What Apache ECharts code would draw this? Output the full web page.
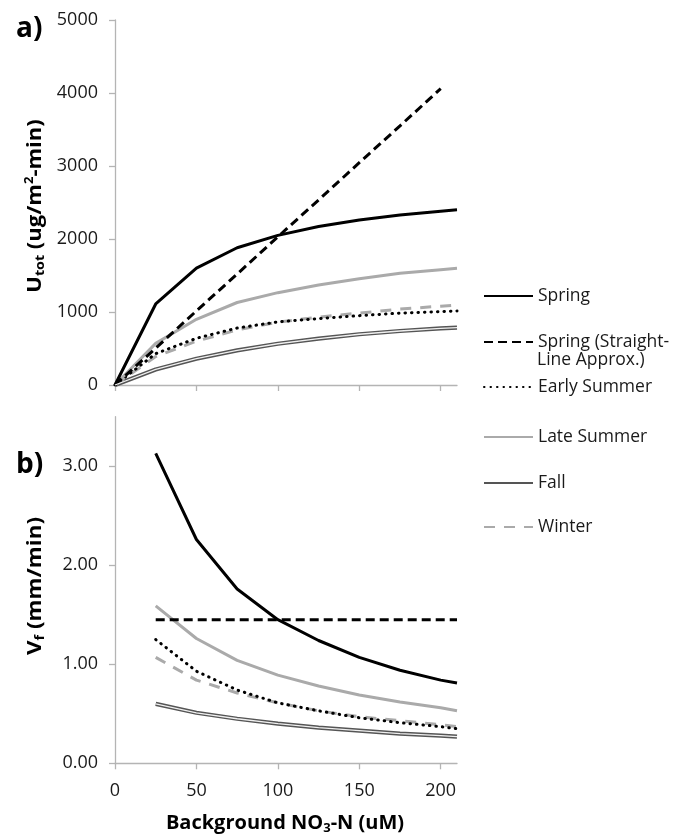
<!DOCTYPE html>
<html>
<head>
<meta charset="utf-8">
<script src="https://cdn.jsdelivr.net/npm/echarts@6/dist/echarts.min.js"></script>
<style>
html,body{margin:0;padding:0;background:#fff;}
#c{width:688px;height:836px;}
</style>
</head>
<body>
<div id="c"></div>
<script>
// ---- data ----
var xTop = [0, 25, 50, 75, 100, 125, 150, 175, 200, 210];
var xStraightTop = [0, 25, 50, 75, 100, 125, 150, 175, 200];
var uSpring = [0, 1110, 1600, 1880, 2050, 2170, 2260, 2330, 2380, 2400];
var uStraight = [0, 505, 1015, 1520, 2030, 2535, 3045, 3550, 4060];
var uEarly = [0, 430, 640, 780, 865, 910, 950, 985, 1005, 1015];
var uLate = [0, 570, 900, 1130, 1265, 1370, 1455, 1530, 1580, 1598];
var uFall = [0, 213, 360, 475, 565, 635, 695, 740, 775, 785];
var uWinter = [0, 390, 600, 755, 860, 930, 985, 1040, 1080, 1096];

var xBot = [25, 50, 75, 100, 125, 150, 175, 200, 210];
var vSpring = [3.13, 2.26, 1.76, 1.45, 1.24, 1.07, 0.94, 0.84, 0.81];
var vStraight = [1.45, 1.45, 1.45, 1.45, 1.45, 1.45, 1.45, 1.45, 1.45];
var vEarly = [1.25, 0.93, 0.74, 0.61, 0.53, 0.46, 0.41, 0.37, 0.35];
var vLate = [1.59, 1.26, 1.04, 0.89, 0.78, 0.69, 0.62, 0.56, 0.53];
var vFall = [0.60, 0.51, 0.45, 0.40, 0.36, 0.33, 0.30, 0.28, 0.27];
var vWinter = [1.07, 0.84, 0.71, 0.61, 0.53, 0.47, 0.43, 0.39, 0.37];

var xTicks = [0, 50, 100, 150, 200];
var yTopTicks = [0, 1000, 2000, 3000, 4000, 5000];
var yBotTicks = [0, 1, 2, 3];

var names = ['Spring', 'Spring (Straight-Line Approx.)', 'Early Summer', 'Late Summer', 'Fall', 'Winter'];

function pairs(xs, ys) { return xs.map(function (x, i) { return [x, ys[i]]; }); }

var FONT = '"Open Sans", "Liberation Sans", sans-serif';
var TXT = '#1a1a1a';
var AX = '#b4b4b4';

var styles = {
  'Spring': { color: '#000', width: 3, type: 'solid' },
  'Spring (Straight-Line Approx.)': { color: '#000', width: 3, type: [9, 5] },
  'Early Summer': { color: '#000', width: 3, type: [0.5, 6], cap: 'round' },
  'Late Summer': { color: '#aaaaaa', width: 3, type: 'solid' },
  'Fall': { color: '#555555', width: 4.2, type: 'solid' },
  'Winter': { color: '#aaaaaa', width: 3, type: [11, 9] }
};

function line(name, data, gi) {
  var s = styles[name];
  return {
    name: name, type: 'line', xAxisIndex: gi, yAxisIndex: gi,
    data: data, symbol: 'none', smooth: false, animation: false,
    lineStyle: { color: s.color, width: s.width, type: s.type, cap: s.cap || 'butt' },
    itemStyle: { color: s.color },
    z: 2
  };
}
function fallInner(data, gi) {
  return { name: 'Fall-inner', type: 'line', xAxisIndex: gi, yAxisIndex: gi, data: data,
    symbol: 'none', animation: false, lineStyle: { color: '#f0f0f0', width: 1.3 }, z: 3, silent: true };
}

var series = [
  line('Fall', pairs(xTop, uFall), 0), fallInner(pairs(xTop, uFall), 0),
  line('Winter', pairs(xTop, uWinter), 0),
  line('Early Summer', pairs(xTop, uEarly), 0),
  line('Late Summer', pairs(xTop, uLate), 0),
  line('Spring (Straight-Line Approx.)', pairs(xStraightTop, uStraight), 0),
  line('Spring', pairs(xTop, uSpring), 0),

  line('Fall', pairs(xBot, vFall), 1), fallInner(pairs(xBot, vFall), 1),
  line('Winter', pairs(xBot, vWinter), 1),
  line('Early Summer', pairs(xBot, vEarly), 1),
  line('Late Summer', pairs(xBot, vLate), 1),
  line('Spring (Straight-Line Approx.)', pairs(xBot, vStraight), 1),
  line('Spring', pairs(xBot, vSpring), 1)
];

function xAxis(gi, showLabels) {
  return {
    type: 'value', gridIndex: gi, min: 0, max: 210,
    splitLine: { show: false },
    axisLine: { show: true, lineStyle: { color: AX, width: 1.3 } },
    axisTick: { show: true, inside: false, length: 6, customValues: xTicks, lineStyle: { color: AX, width: 1.3 } },
    axisLabel: { show: showLabels, customValues: xTicks, margin: 19, fontSize: 18, fontFamily: FONT, color: TXT }
  };
}
function yAxis(gi, max, ticks, fmt) {
  return {
    type: 'value', gridIndex: gi, min: 0, max: max,
    splitLine: { show: false },
    axisLine: { show: true, lineStyle: { color: AX, width: 1.3 } },
    axisTick: { show: true, length: 6, customValues: ticks, lineStyle: { color: AX, width: 1.3 } },
    axisLabel: { customValues: ticks, margin: 17, fontSize: 18, fontFamily: FONT, color: TXT, formatter: fmt }
  };
}

var legendTops = [296, 342, 387, 437, 483, 527];
var legends = names.map(function (n, i) {
  var two = (i === 1);
  return {
    data: [n], orient: 'vertical', left: 483, top: legendTops[i] - 9,
    padding: 0, itemWidth: 49, itemHeight: 14, itemGap: 0, selectedMode: false,
    itemStyle: { opacity: 0 },
    formatter: two ? function () { return 'Spring (Straight-'; } : undefined,
    textStyle: { fontFamily: FONT, fontSize: 17.5, color: TXT, lineHeight: 18 }
  };
});

var richBold = {
  a: { fontFamily: FONT, fontSize: 20, fontWeight: 'bold', color: TXT, lineHeight: 24 },
  s: { fontFamily: FONT, fontSize: 13, fontWeight: 'bold', color: TXT, lineHeight: 13, verticalAlign: 'bottom' },
  p: { fontFamily: FONT, fontSize: 12, fontWeight: 'bold', color: TXT, lineHeight: 12, verticalAlign: 'top', padding: [1, 0, 0, 0] }
};

var option = {
  backgroundColor: '#fff',
  animation: false,
  grid: [
    { left: 115, top: 20, width: 342, height: 365 },
    { left: 115, top: 416.7, width: 342, height: 346.6 }
  ],
  xAxis: [xAxis(0, false), xAxis(1, true)],
  yAxis: [
    yAxis(0, 5000, yTopTicks, function (v) { return String(v); }),
    yAxis(1, 3.5, yBotTicks, function (v) { return v.toFixed(2); })
  ],
  legend: legends,
  series: series,
  graphic: [
    { type: 'text', left: 16, top: 15, style: { text: 'a)', font: 'bold 28px ' + FONT, fill: '#000' } },
    { type: 'text', left: 16, top: 451, style: { text: 'b)', font: 'bold 28px ' + FONT, fill: '#000' } },
    { type: 'text', x: 537, y: 360, style: { text: 'Line Approx.)', font: '17.5px ' + FONT, fill: TXT, verticalAlign: 'middle' } },
    { type: 'text', x: 35, y: 206, rotation: Math.PI / 2, scaleX: 1.1,
      style: { text: '{a|U}{s|tot}{a| (ug/m}{p|2}{a|-min)}', rich: richBold, align: 'center', verticalAlign: 'middle' } },
    { type: 'text', x: 35, y: 586, rotation: Math.PI / 2, scaleX: 1.12,
      style: { text: '{a|V}{s|f}{a| (mm/min)}', rich: richBold, align: 'center', verticalAlign: 'middle' } },
    { type: 'text', x: 285, y: 823,
      style: { text: '{a|Background NO}{s|3}{a|-N (uM)}', rich: richBold, align: 'center', verticalAlign: 'middle' } }
  ]
};

var chart = echarts.init(document.getElementById('c'), null, { renderer: 'canvas' });
chart.setOption(option);
</script>
</body>
</html>
